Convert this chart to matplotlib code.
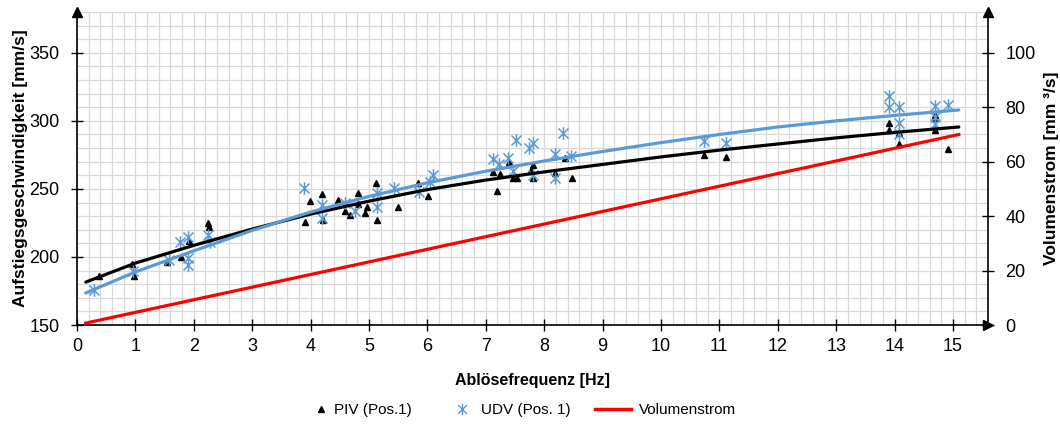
import matplotlib
matplotlib.use("Agg")
import matplotlib.pyplot as plt
from matplotlib.path import Path
from matplotlib.lines import Line2D
from matplotlib.legend_handler import HandlerLine2D
import numpy as np

plt.rcParams['font.family'] = ['Liberation Sans', 'DejaVu Sans']

# ---- data ----
piv_freq = [0.37, 0.94, 0.97, 1.54, 1.78, 1.91, 2.24, 2.26,
            3.90, 3.99, 4.19, 4.21, 4.47, 4.59, 4.67, 4.81, 4.81, 4.93, 4.97,
            5.12, 5.13, 5.50, 5.84, 6.01,
            7.13, 7.19, 7.25, 7.40, 7.47, 7.53, 7.77, 7.81, 7.81, 8.18, 8.36, 8.47,
            10.74, 11.11, 13.90, 13.90, 14.08, 14.08, 14.70, 14.70, 14.70, 14.92]
piv_speed = [186, 195, 186, 196, 200, 212, 224.7, 222,
             225.8, 241, 246, 227, 241.6, 234, 230.6, 246.7, 239, 232, 237,
             254, 227, 237, 254, 245,
             262.4, 248.5, 260.7, 269.8, 257.7, 257.7, 263.6, 267.3, 258, 261.4, 272.4, 257.8,
             274.6, 273.5, 298.3, 293, 291, 283, 304.5, 302, 293, 279.6]

udv_freq = [0.29, 0.96, 1.57, 1.76, 1.90, 1.90, 1.90, 2.24, 2.28,
            3.89, 4.20, 4.19, 4.59, 4.76, 5.14, 5.13, 5.43, 5.86, 6.04, 6.10,
            7.13, 7.23, 7.38, 7.46, 7.52, 7.74, 7.80, 7.81, 8.18, 8.18, 8.32, 8.46,
            10.74, 11.11, 13.90, 13.90, 14.08, 14.08, 14.08, 14.70, 14.70, 14.70, 14.92]
udv_speed = [176, 190, 198, 211, 214.7, 199, 194, 216, 211,
             251, 238, 228.5, 240, 234, 246.8, 236.8, 251, 248, 255, 260.5,
             271.7, 268, 272.4, 263, 286, 279.8, 260, 283.6, 275.4, 257.7, 291, 274,
             285, 283.6, 318.6, 310, 310, 298.3, 290.5, 310.6, 302.7, 297.8, 311.3]

fit_freq = [0.15, 1, 2, 3, 4, 5, 6, 7, 8, 9, 10, 11, 12, 13, 14, 15.1]
piv_fit = [181.5, 195.5, 208.5, 220.5, 231.5, 241, 249.5, 256.5, 262.5, 268,
           273.5, 278.5, 283, 287.5, 291.5, 295.5]
udv_fit = [173.5, 189, 204.5, 219.5, 233, 244.5, 254.5, 263, 270.5, 277.5,
           284, 290, 295.5, 300, 304, 308]

vol_freq = [0.15, 15.1]
vol_flow = [0.7, 70]

x_ticks = list(range(0, 16))
y_ticks = [150, 200, 250, 300, 350]
y2_ticks = [0, 20, 40, 60, 80, 100]

# ---- figure ----
fig = plt.figure(figsize=(10.6, 4.26), dpi=100)
ax = fig.add_axes([77/1060, 101/426, 911/1060, 313/426])
ax2 = ax.twinx()

ax.set_xlim(0, 15.6)
ax.set_ylim(150, 380)
ax2.set_ylim(0, 115)

ax.set_xticks(x_ticks)
ax.set_yticks(y_ticks)
ax.set_xticks(np.arange(0, 15.61, 0.2), minor=True)
ax.set_yticks(np.arange(150, 381, 10), minor=True)
ax2.set_yticks(y2_ticks)
ax.grid(which='both', color='#d9d9d9', lw=0.9)
ax.set_axisbelow(True)

ax.tick_params(axis='x', which='major', direction='inout', length=9, width=1, labelsize=13, pad=5)
ax.tick_params(axis='y', which='major', direction='inout', length=9, width=1, labelsize=13, pad=8)
ax.tick_params(which='minor', length=0)
ax2.tick_params(which='major', direction='inout', length=9, width=1, labelsize=13, pad=8)

ax.spines['top'].set_visible(False)
ax.spines['right'].set_visible(False)
for s in ['top', 'left', 'bottom']:
    ax2.spines[s].set_visible(False)
for sp in [ax.spines['left'], ax.spines['bottom'], ax2.spines['right']]:
    sp.set_linewidth(1.2)

# arrows at the ends of the axes
ax.plot([0], [1.0], marker='^', ms=7, color='k', transform=ax.transAxes, clip_on=False, zorder=10)
ax.plot([1], [1.0], marker='^', ms=7, color='k', transform=ax.transAxes, clip_on=False, zorder=10)
ax.plot([1], [0], marker='>', ms=7, color='k', transform=ax.transAxes, clip_on=False, zorder=10)

# asterisk marker
star = Path([(-1, -1), (1, 1), (-1, 1), (1, -1), (0, -1.25), (0, 1.25)],
            [Path.MOVETO, Path.LINETO, Path.MOVETO, Path.LINETO, Path.MOVETO, Path.LINETO])

blue = '#5b9bd5'
ax.plot(piv_freq, piv_speed, ls='none', marker='^', ms=5, color='k', zorder=3)
ax.plot(udv_freq, udv_speed, ls='none', marker=star, ms=9, mew=1.1,
        markerfacecolor='none', markeredgecolor=blue, zorder=3)
ax.plot(fit_freq, piv_fit, color='k', lw=2.3, zorder=4, solid_capstyle='round')
ax.plot(fit_freq, udv_fit, color=blue, lw=2.3, zorder=4, solid_capstyle='round')
ax2.plot(vol_freq, vol_flow, color='#ff0000', lw=2.3)

ax.set_xlabel('Ablösefrequenz [Hz]', fontsize=11.5, fontweight='bold', labelpad=13)
ax.set_ylabel('Aufstiegsgeschwindigkeit [mm/s]', fontsize=12.5, fontweight='bold', labelpad=1)
ax2.set_ylabel('Volumenstrom [mm ³/s]', fontsize=12.5, fontweight='bold', labelpad=6)


class RightMarker(HandlerLine2D):
    """Legend handler that puts a lone marker near the text side of the handle box."""
    def __init__(self, offset_px, **kw):
        super().__init__(**kw)
        self.offset_px = offset_px

    def create_artists(self, legend, orig_handle, xdescent, ydescent, width, height,
                       fontsize, trans):
        arts = super().create_artists(legend, orig_handle, xdescent, ydescent, width,
                                      height, fontsize, trans)
        for a in arts:
            xd = np.asarray(a.get_xdata(), dtype=float)
            a.set_xdata(np.full_like(xd, width - xdescent - self.offset_px))
        return arts


h_piv = Line2D([], [], ls='none', marker='^', ms=4, color='k')
h_udv = Line2D([], [], ls='none', marker=star, ms=8, mew=1.0, markerfacecolor='none',
               markeredgecolor=blue)
h_vol = Line2D([], [], color='#ff0000', lw=2.5)
labels = ['PIV (Pos.1)', 'UDV (Pos. 1)', 'Volumenstrom']
fig.legend([h_piv, h_udv, h_vol], labels, loc='center', bbox_to_anchor=(0.484, 16/426), ncol=3,
           frameon=False, fontsize=11, handlelength=2.4, columnspacing=1.6, handletextpad=0.5,
           handler_map={h_piv: RightMarker(4), h_udv: RightMarker(8)})

fig.savefig('out.png', dpi=100)
